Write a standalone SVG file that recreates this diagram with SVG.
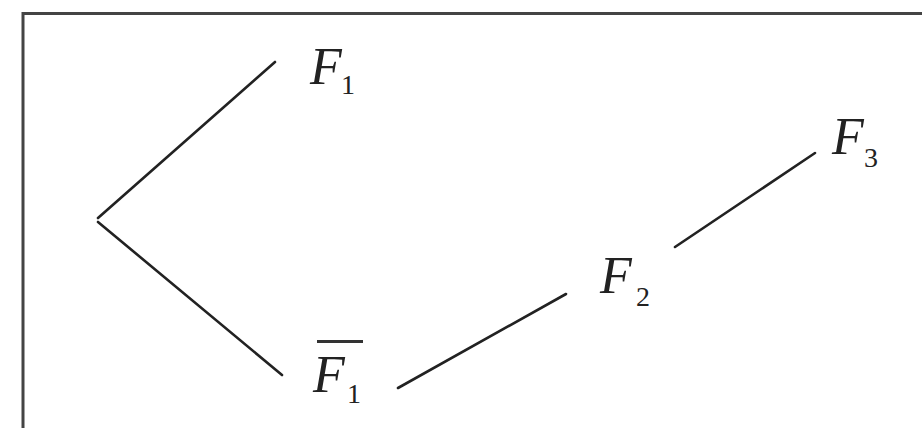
<svg xmlns="http://www.w3.org/2000/svg" width="922" height="430" viewBox="0 0 922 430">
<style>
.ln{stroke:#222;stroke-width:2.6;stroke-linecap:round;fill:none}
.v{font-family:"Liberation Serif",serif;font-style:italic;font-size:52px;fill:#222}
.s{font-family:"Liberation Serif",serif;font-size:28px;fill:#222}
</style>
<rect width="922" height="430" fill="#fff"/>
<g id="frame">
<path d="M23 428 V13.5 H922" stroke="#444" stroke-width="3" fill="none"/>
</g>
<g id="connectors">
<line class="ln" x1="98" y1="218" x2="275" y2="62"/>
<line class="ln" x1="98" y1="222" x2="282" y2="375"/>
<line class="ln" x1="398" y1="388" x2="566" y2="294"/>
<line class="ln" x1="675" y1="247" x2="815" y2="153"/>
</g>
<g id="F1"><text class="v" x="310" y="84">F</text><text class="s" x="341" y="94">1</text></g>
<g id="F1bar"><line x1="317" y1="341.5" x2="363" y2="341.5" stroke="#333" stroke-width="3"/><text class="v" x="313" y="392">F</text><text class="s" x="347" y="403">1</text></g>
<g id="F2"><text class="v" x="600" y="293">F</text><text class="s" x="636" y="306">2</text></g>
<g id="F3"><text class="v" x="832" y="154">F</text><text class="s" x="864" y="167">3</text></g>
</svg>
